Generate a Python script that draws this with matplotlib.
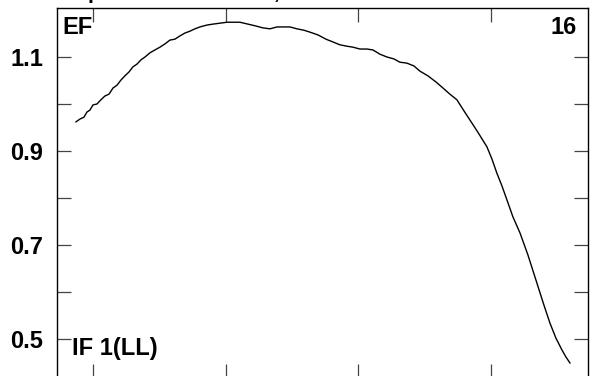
import numpy as np
import matplotlib
matplotlib.use("Agg")
import matplotlib.pyplot as plt
from matplotlib.ticker import FixedLocator, FuncFormatter

# curve
x = [0.872, 0.902, 0.932, 0.955, 0.977, 1.000, 1.030, 1.060, 1.090, 1.121,
     1.151, 1.181, 1.211, 1.241, 1.271, 1.301, 1.332, 1.362, 1.392, 1.430,
     1.467, 1.505, 1.543, 1.580, 1.618, 1.656, 1.693, 1.731, 1.769, 1.806,
     1.859, 1.904, 1.957, 2.010, 2.055, 2.108, 2.168, 2.228, 2.281, 2.334,
     2.387, 2.439, 2.485, 2.537, 2.590, 2.635, 2.696, 2.756, 2.809, 2.861,
     2.914, 2.959, 3.012, 3.065, 3.110, 3.163, 3.216, 3.268, 3.313, 3.366,
     3.419, 3.464, 3.524, 3.585, 3.638, 3.690, 3.743, 3.788, 3.841, 3.901,
     3.969, 4.007, 4.044, 4.082, 4.120, 4.165, 4.218, 4.278, 4.346, 4.399,
     4.444, 4.489, 4.534, 4.564, 4.595]
ef = [0.962, 0.968, 0.972, 0.983, 0.987, 0.998, 1.000, 1.009, 1.017, 1.021,
      1.034, 1.040, 1.051, 1.060, 1.068, 1.079, 1.085, 1.094, 1.100, 1.109,
      1.115, 1.121, 1.128, 1.136, 1.138, 1.145, 1.151, 1.155, 1.160, 1.164,
      1.168, 1.170, 1.172, 1.174, 1.174, 1.174, 1.170, 1.166, 1.162, 1.160,
      1.164, 1.164, 1.164, 1.160, 1.157, 1.153, 1.147, 1.138, 1.132, 1.126,
      1.123, 1.121, 1.117, 1.117, 1.115, 1.106, 1.100, 1.096, 1.089, 1.087,
      1.081, 1.070, 1.060, 1.047, 1.034, 1.021, 1.009, 0.989, 0.966, 0.940,
      0.909, 0.883, 0.853, 0.826, 0.796, 0.760, 0.726, 0.679, 0.619, 0.572,
      0.534, 0.502, 0.477, 0.462, 0.449]

xticks = [1, 2, 3, 4]
yticks = [0.5, 0.6, 0.7, 0.8, 0.9, 1.0, 1.1]
ylabels = {0.5: "0.5", 0.7: "0.7", 0.9: "0.9", 1.1: "1.1"}

plt.rcParams["font.family"] = ["Liberation Sans", "DejaVu Sans"]
plt.rcParams["font.weight"] = "bold"

fig = plt.figure(figsize=(5.91, 3.76), dpi=100)
ax = fig.add_axes([57 / 591, -2 / 376, 531 / 591, 370 / 376])

ax.plot(x, ef, color="black", linewidth=1.0)

ax.set_xlim(0.729, 4.731)
ax.set_ylim(0.417, 1.2043)

ax.xaxis.set_major_locator(FixedLocator(xticks))
ax.yaxis.set_major_locator(FixedLocator(yticks))
ax.xaxis.set_major_formatter(FuncFormatter(lambda v, p: ""))
ax.yaxis.set_major_formatter(FuncFormatter(lambda v, p: ylabels.get(round(v, 1), "")))
ax.tick_params(axis="both", direction="in", length=10, width=0.9, color="#444444",
               top=True, right=True, labelsize=17, pad=10)
for s in ax.spines.values():
    s.set_linewidth(1.0)

ax.text(0.011, 0.978, "EF", transform=ax.transAxes, fontsize=17,
        fontweight="bold", ha="left", va="top")
ax.text(0.979, 0.978, "16", transform=ax.transAxes, fontsize=17,
        fontweight="bold", ha="right", va="top")
ax.text(0.028, 0.062, "IF 1(LL)", transform=ax.transAxes, fontsize=17,
        fontweight="bold", ha="left", va="baseline")

# title sits mostly above the visible area, as in the source picture
fig.text(0.545, 1 + 1 / 376, "Spectra of bands EF, normalized to AC mean level",
         fontsize=15, fontweight="bold", ha="center", va="baseline")

fig.savefig("out.png", dpi=100)
